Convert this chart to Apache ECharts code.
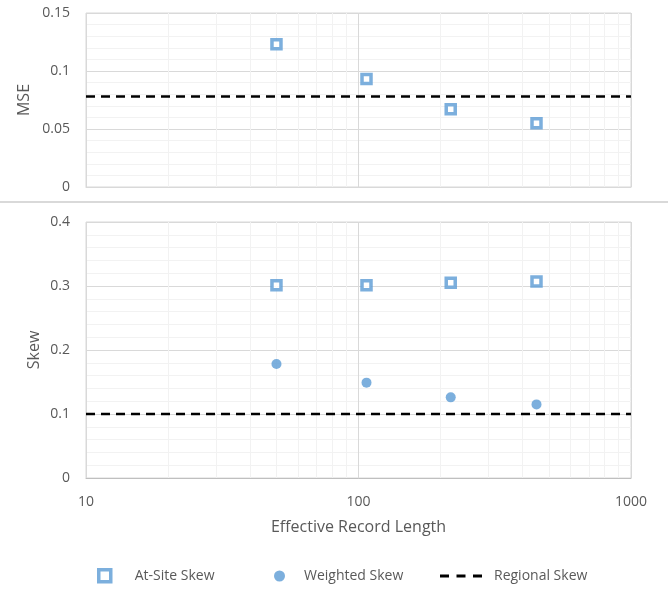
<!DOCTYPE html>
<html>
<head>
<meta charset="utf-8">
<script src="https://cdn.jsdelivr.net/npm/echarts@6/dist/echarts.min.js"></script>
<style>html,body{margin:0;padding:0;background:#fff;}#c{width:668px;height:602px;}</style>
</head>
<body>
<div id="c"></div>
<script>
// ---- data ----
const recordLengths = [50, 107, 218, 450];
const mseAtSite = [0.123, 0.093, 0.067, 0.055];
const mseRegional = 0.078;
const skewAtSite = [0.301, 0.301, 0.305, 0.307];
const skewWeighted = [0.178, 0.149, 0.126, 0.115];
const skewRegional = 0.1;
const xRange = [10, 1000];
const minorXTicks = [20, 30, 40, 50, 60, 70, 80, 90, 200, 300, 400, 500, 600, 700, 800, 900];
const seriesNames = ['At-Site Skew', 'Weighted Skew', 'Regional Skew'];

const BLUE = '#5b9bd5';
const TXT = '#595959';
const FONT = 'Open Sans';

const pairs = (xs, ys) => xs.map((x, i) => [x, ys[i]]);
const flat = (v) => xRange.map(x => [x, v]);

const chart = echarts.init(document.getElementById('c'), null, {renderer: 'canvas'});

function xAxisCfg(gi, showLabels) {
  return {
    type: 'log', logBase: 10, gridIndex: gi, min: xRange[0], max: xRange[1],
    axisLine: {show: true, lineStyle: {color: showLabels ? '#bfbfbf' : '#d9d9d9', width: 1}},
    axisTick: {show: false},
    axisLabel: {show: showLabels, color: TXT, fontFamily: FONT, fontSize: 14, margin: 17,
      formatter: (v) => String(Math.round(v))},
    splitLine: {show: true, lineStyle: {color: '#d9d9d9', width: 1}},
    minorTick: {show: false}, minorSplitLine: {show: false},
    name: showLabels ? 'Effective Record Length' : '',
    nameLocation: 'middle', nameGap: 41,
    nameTextStyle: {color: TXT, fontFamily: FONT, fontSize: 16}
  };
}
function yAxisCfg(gi, max, interval, name, gap) {
  return {
    type: 'value', gridIndex: gi, min: 0, max: max, interval: interval,
    axisLine: {show: false}, axisTick: {show: false},
    axisLabel: {color: TXT, fontFamily: FONT, fontSize: 14, margin: 16},
    splitLine: {show: true, lineStyle: {color: '#d9d9d9', width: 1}},
    minorTick: {show: false, splitNumber: 5},
    minorSplitLine: {show: true, lineStyle: {color: '#f2f2f2', width: 1}},
    name: name, nameLocation: 'middle', nameGap: gap, nameMoveOverlap: false,
    nameTextStyle: {color: TXT, fontFamily: FONT, fontSize: 16}
  };
}
function minorLines(gi) {
  return {
    type: 'scatter', xAxisIndex: gi, yAxisIndex: gi, data: [], silent: true, z: 1,
    markLine: {
      silent: true, symbol: 'none', label: {show: false}, animation: false, z: 1,
      lineStyle: {color: '#f2f2f2', width: 1, type: 'solid'},
      emphasis: {disabled: true},
      data: minorXTicks.map(v => ({xAxis: v}))
    }
  };
}
const atSiteStyle = {symbol: 'rect', symbolSize: 9, itemStyle: {color: '#fff', borderColor: BLUE, borderWidth: 3.5}};
const regionalStyle = {type: 'line', symbol: 'none', lineStyle: {color: '#000', width: 2.5, type: [9, 6]}, itemStyle: {color: '#000'}, z: 6};

function legendCfg(item, left, w, h, pad, top) {
  return {
    data: [item], left: left, top: top, padding: 0, itemWidth: w, itemHeight: h,
    selectedMode: false,
    textStyle: {color: TXT, fontFamily: FONT, fontSize: 14, padding: [0, 0, 0, pad]}
  };
}

chart.setOption({
  animation: false,
  backgroundColor: '#fff',
  grid: [
    {left: 86, right: 37, top: 13, height: 174, show: true, borderColor: '#d9d9d9', borderWidth: 1, containLabel: false},
    {left: 86, right: 37, top: 222, height: 256, show: true, borderColor: '#d9d9d9', borderWidth: 1, containLabel: false}
  ],
  xAxis: [xAxisCfg(0, false), xAxisCfg(1, true)],
  yAxis: [yAxisCfg(0, 0.15, 0.05, 'MSE', 54), yAxisCfg(1, 0.4, 0.1, 'Skew', 44)],
  legend: [
    legendCfg({name: seriesNames[0], itemStyle: {borderWidth: 3.5}}, 97, 12, 12, 19, 568),
    legendCfg(seriesNames[1], 274, 11, 11, 14, 569),
    legendCfg({name: seriesNames[2], icon: 'path://M0,0H9V3H0Z M16.5,0H25.5V3H16.5Z M33,0H42V3H33Z'}, 440, 42, 3, 7, 569)
  ],
  graphic: [{
    type: 'line', shape: {x1: 0, y1: 202, x2: 668, y2: 202},
    style: {stroke: '#d9d9d9', lineWidth: 2}, silent: true
  }],
  series: [
    minorLines(0), minorLines(1),
    Object.assign({type: 'scatter', name: seriesNames[0], xAxisIndex: 0, yAxisIndex: 0, data: pairs(recordLengths, mseAtSite), z: 7}, atSiteStyle),
    Object.assign({name: seriesNames[2], xAxisIndex: 0, yAxisIndex: 0, data: flat(mseRegional)}, regionalStyle),
    Object.assign({type: 'scatter', name: seriesNames[0], xAxisIndex: 1, yAxisIndex: 1, data: pairs(recordLengths, skewAtSite), z: 7}, atSiteStyle),
    {type: 'scatter', name: seriesNames[1], xAxisIndex: 1, yAxisIndex: 1, data: pairs(recordLengths, skewWeighted), symbol: 'circle', symbolSize: 10, itemStyle: {color: BLUE}, z: 7},
    Object.assign({name: seriesNames[2], xAxisIndex: 1, yAxisIndex: 1, data: flat(skewRegional)}, regionalStyle)
  ]
});
</script>
</body>
</html>
